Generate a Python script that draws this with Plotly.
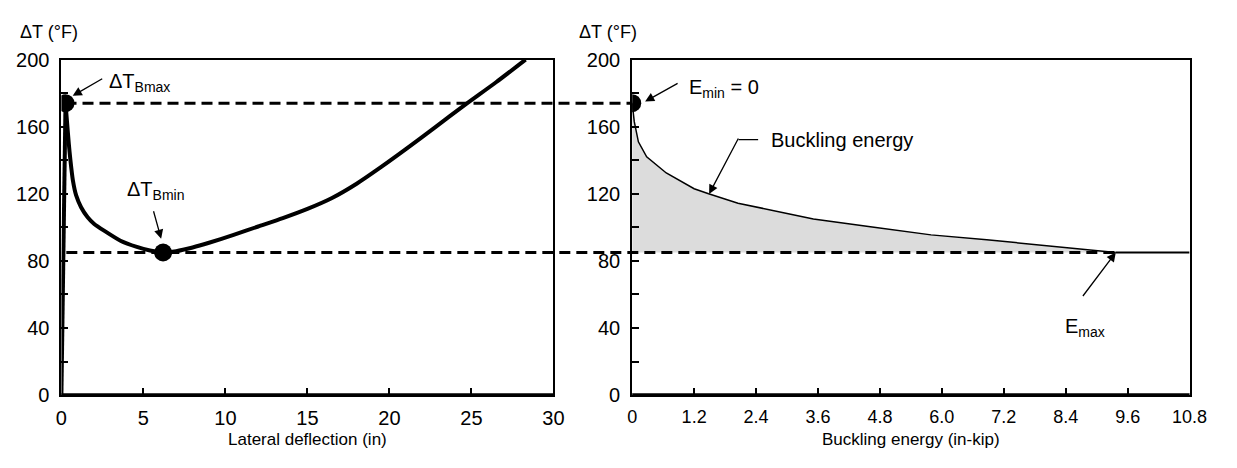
import plotly.graph_objects as go

# Left panel: temperature rise vs lateral deflection
defl_up = [0.0, 0.25]
temp_up = [0.0, 174.0]
defl = [0.25, 0.35, 0.45, 0.55, 0.7, 0.9, 1.2, 1.6, 2.0, 2.6, 3.6, 4.6, 5.4, 6.2,
        7.0, 8.0, 9.0, 10.5, 12.0, 13.5, 15.0, 16.5, 18.0, 19.5, 21.0, 22.8, 24.6, 26.5, 28.3]
temp = [174, 162, 150, 140, 128, 119, 112, 106, 102, 98, 92, 88.3, 86.2, 85,
        85.8, 88.0, 90.8, 95.5, 100.5, 105.5, 111, 117.5, 126, 136, 146.6, 159.8, 173, 186.5, 200]

# Right panel: buckling energy vs temperature rise
energy = [0, 0.04, 0.12, 0.28, 0.66, 1.2, 1.48, 2.05, 3.07, 3.51, 4.65, 5.79, 6.87, 8.13, 9.37]
temp_e = [174, 163, 151, 142, 132.4, 123, 120, 114.4, 107.8, 105, 100.2, 95.5, 92.6, 88.8, 85]

T_BMAX = 174
T_BMIN = 85
DEFL_BMAX = 0.25
DEFL_BMIN = 6.2
E_MAX = 9.37

left_xticks = [0, 5, 10, 15, 20, 25, 30]
right_xticks = [0, 1.2, 2.4, 3.6, 4.8, 6.0, 7.2, 8.4, 9.6, 10.8]
right_xticktext = ["0", "1.2", "2.4", "3.6", "4.8", "6.0", "7.2", "8.4", "9.6", "10.8"]
yticks = [0, 40, 80, 120, 160, 200]

W, H = 1237, 468
XD1 = [56.5 / W, 558.3 / W]
XD2 = [638.6 / W, 1207 / W]
YD = [65 / H, 417 / H]
X1R = [0, 30]
X2R = [0, 10.8]

FONT = "Liberation Sans, Arial, sans-serif"


def px1(x):
    return XD1[0] + (x - X1R[0]) / (X1R[1] - X1R[0]) * (XD1[1] - XD1[0])


def px2(x):
    return XD2[0] + (x - X2R[0]) / (X2R[1] - X2R[0]) * (XD2[1] - XD2[0])


fig = go.Figure()

# shaded energy region
fig.add_trace(go.Scatter(
    x=energy + [0], y=temp_e + [T_BMIN], xaxis="x2", yaxis="y2",
    fill="toself", fillcolor="#dcdcdc", line=dict(width=0), mode="lines",
    hoverinfo="skip", showlegend=False))

# dashed reference levels spanning both panels
fig.add_shape(type="line", xref="paper", yref="y", x0=px1(DEFL_BMAX), x1=px2(0),
              y0=T_BMAX, y1=T_BMAX, line=dict(color="black", width=3, dash="11px,6px"))
fig.add_shape(type="line", xref="paper", yref="y", x0=px1(0.3), x1=px2(E_MAX),
              y0=T_BMIN, y1=T_BMIN, line=dict(color="black", width=3, dash="11px,6px"))

fig.add_trace(go.Scatter(x=defl_up, y=temp_up, mode="lines", line=dict(color="black", width=4),
                         showlegend=False, hoverinfo="skip"))
fig.add_trace(go.Scatter(x=defl, y=temp, mode="lines",
                         line=dict(color="black", width=4, shape="spline", smoothing=0.6),
                         showlegend=False, hoverinfo="skip"))
fig.add_trace(go.Scatter(x=[DEFL_BMAX, DEFL_BMIN], y=[T_BMAX, T_BMIN], mode="markers",
                         marker=dict(color="black", size=18), showlegend=False, hoverinfo="skip"))

fig.add_trace(go.Scatter(x=energy, y=temp_e, xaxis="x2", yaxis="y2", mode="lines",
                         line=dict(color="black", width=1.5), showlegend=False, hoverinfo="skip"))
fig.add_trace(go.Scatter(x=[E_MAX, X2R[1]], y=[T_BMIN, T_BMIN], xaxis="x2", yaxis="y2", mode="lines",
                         line=dict(color="black", width=2), showlegend=False, hoverinfo="skip"))
fig.add_trace(go.Scatter(x=[0], y=[T_BMAX], xaxis="x2", yaxis="y2", mode="markers",
                         marker=dict(color="black", size=18), showlegend=False, hoverinfo="skip"))

axis_common = dict(showline=True, linecolor="black", linewidth=2, mirror=True,
                   ticks="inside", ticklen=7, tickwidth=1.5, tickcolor="black",
                   showgrid=False, zeroline=False, tickfont=dict(family=FONT, size=20, color="black"))
minor_y = dict(dtick=20, ticks="inside", ticklen=7, tickwidth=1.5, tickcolor="black")

fig.update_layout(
    width=W, height=H, margin=dict(l=0, r=0, t=0, b=0),
    plot_bgcolor="white", paper_bgcolor="white", showlegend=False,
    xaxis=dict(domain=XD1, range=X1R, tickvals=left_xticks, anchor="y",
               ticklabelstandoff=4, **axis_common),
    yaxis=dict(domain=YD, range=[0, 200], tickvals=yticks, anchor="x",
               minor=minor_y, ticklabelstandoff=6, **axis_common),
    xaxis2=dict(domain=XD2, range=X2R, tickvals=right_xticks, ticktext=right_xticktext, anchor="y2",
                ticklabelstandoff=4,
                **{**axis_common, "tickfont": dict(family=FONT, size=18, color="black")}),
    yaxis2=dict(domain=YD, range=[0, 200], tickvals=yticks, anchor="x2",
                minor=minor_y, ticklabelstandoff=6, **axis_common),
)

# heavier bottom axes
for xr, yr in (("x", "y"), ("x2", "y2")):
    fig.add_shape(type="line", xref=xr + " domain", yref=yr, x0=0, x1=1, y0=0, y1=0,
                  line=dict(color="black", width=3.5))

txt = dict(family=FONT, size=20, color="black")
arrow = dict(showarrow=True, arrowhead=2, arrowsize=1.4, arrowwidth=1.3, arrowcolor="black",
             standoff=0, text="")

# axis titles
for x0 in (12, 582):
    fig.add_annotation(xref="paper", yref="paper", x=x0 / W, y=1 - 22 / H, text="ΔT (°F)",
                       showarrow=False, xanchor="left", yanchor="middle",
                       font=dict(family=FONT, size=18, color="black"))
fig.add_annotation(xref="paper", yref="paper", x=(XD1[0] + XD1[1]) / 2, y=1 - 450 / H,
                   text="Lateral deflection (in)", showarrow=False, xanchor="center", yanchor="middle",
                   font=dict(family=FONT, size=17, color="black"))
fig.add_annotation(xref="paper", yref="paper", x=(XD2[0] + XD2[1]) / 2, y=1 - 450 / H,
                   text="Buckling energy (in-kip)", showarrow=False, xanchor="center", yanchor="middle",
                   font=dict(family=FONT, size=17, color="black"))

# callouts, left panel
fig.add_annotation(x=0.69, y=178.4, ax=31, ay=-18, **arrow)
fig.add_annotation(x=2.75, y=186.5, text="ΔT<sub>Bmax</sub>", showarrow=False, xanchor="left",
                   yanchor="middle", font=txt)
fig.add_annotation(x=6.08, y=93.2, ax=-8, ay=-29, **arrow)
fig.add_annotation(x=3.9, y=122, text="ΔT<sub>Bmin</sub>", showarrow=False, xanchor="left",
                   yanchor="middle", font=txt)

# callouts, right panel
fig.add_annotation(x=0.25, y=175, xref="x2", yref="y2", ax=34, ay=-19, **arrow)
fig.add_annotation(x=1.07, y=183, xref="x2", yref="y2", text="E<sub>min</sub> = 0", showarrow=False,
                   xanchor="left", yanchor="middle", font=txt)
fig.add_annotation(x=1.49, y=119.9, xref="x2", yref="y2", ax=30, ay=-57, **arrow)
fig.add_shape(type="line", xref="x2", yref="y2", x0=2.06, x1=2.44, y0=152.3, y1=152.3,
              line=dict(color="black", width=1.3))
fig.add_annotation(x=2.65, y=152.3, xref="x2", yref="y2", text="Buckling energy", showarrow=False,
                   xanchor="left", yanchor="middle", font=txt)
fig.add_annotation(x=E_MAX, y=T_BMIN, xref="x2", yref="y2", ax=-34, ay=45, **arrow)
fig.add_annotation(x=8.35, y=40.5, xref="x2", yref="y2", text="E<sub>max</sub>", showarrow=False,
                   xanchor="left", yanchor="middle", font=txt)

fig.write_html("out.html")
